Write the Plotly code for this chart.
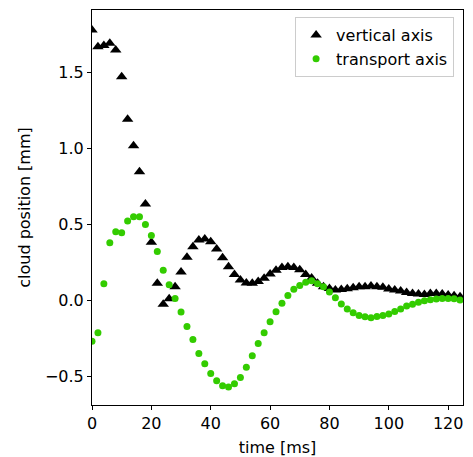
import plotly.graph_objects as go

time_ms = list(range(0, 126, 2))

vertical_axis = [
    1.776, 1.667, 1.675, 1.689, 1.645, 1.469, 1.189, 1.015, 0.844, 0.632,
    0.380, 0.110, -0.028, 0.009, 0.088, 0.184, 0.281, 0.351, 0.395, 0.401,
    0.384, 0.336, 0.278, 0.219, 0.169, 0.132, 0.112, 0.110, 0.123, 0.143,
    0.171, 0.197, 0.215, 0.219, 0.215, 0.200, 0.169, 0.145, 0.110, 0.088,
    0.077, 0.066, 0.070, 0.075, 0.081, 0.088, 0.088, 0.092, 0.088, 0.084,
    0.073, 0.066, 0.059, 0.050, 0.044, 0.040, 0.037, 0.044, 0.044, 0.040,
    0.033, 0.029, 0.022,
]

transport_axis = [
    -0.270, -0.215, 0.107, 0.377, 0.450, 0.443, 0.520, 0.548, 0.548, 0.498,
    0.425, 0.320, 0.197, 0.101, 0.011, -0.079, -0.173, -0.259, -0.351, -0.419,
    -0.482, -0.531, -0.564, -0.572, -0.550, -0.509, -0.441, -0.366, -0.285, -0.215,
    -0.143, -0.077, -0.020, 0.031, 0.072, 0.096, 0.118, 0.127, 0.107, 0.088,
    0.053, 0.015, -0.026, -0.059, -0.083, -0.101, -0.110, -0.116, -0.108, -0.101,
    -0.092, -0.075, -0.059, -0.039, -0.028, -0.015, -0.004, 0.002, 0.007, 0.011,
    0.011, 0.009, 0.000,
]

font = dict(family="DejaVu Sans", size=16, color="black")
title_font = dict(family="DejaVu Sans", size=16, color="black")

fig = go.Figure()
fig.add_trace(go.Scatter(
    x=time_ms, y=vertical_axis, mode="markers", name="vertical axis",
    marker=dict(symbol="triangle-up", size=10, color="black", line=dict(width=0)),
))
fig.add_trace(go.Scatter(
    x=time_ms, y=transport_axis, mode="markers", name="transport axis",
    marker=dict(symbol="circle", size=7, color="#33cc00", line=dict(width=0)),
))

fig.update_layout(
    width=473, height=457,
    margin=dict(l=92, r=10, t=10, b=52, autoexpand=False),
    paper_bgcolor="white", plot_bgcolor="white",
    font=font,
    showlegend=True,
    legend=dict(
        x=0.976, y=0.982, xanchor="right", yanchor="top",
        bgcolor="rgba(255,255,255,0.8)", bordercolor="#cccccc", borderwidth=1,
        font=dict(family="DejaVu Sans", size=16, color="black"),
        tracegroupgap=0,
    ),
)
fig.update_xaxes(
    range=[0, 125], tickvals=[0, 20, 40, 60, 80, 100, 120],
    showgrid=False, zeroline=False, automargin=False,
    showline=True, linecolor="black", linewidth=1, mirror=True,
    ticks="outside", ticklen=4, tickcolor="black",
    title=dict(text="time [ms]", standoff=9, font=title_font),
)
fig.update_yaxes(
    range=[-0.69, 1.908], tickvals=[-0.5, 0.0, 0.5, 1.0, 1.5], tickformat=".1f",
    showgrid=False, zeroline=False, automargin=False,
    showline=True, linecolor="black", linewidth=1, mirror=True,
    ticks="outside", ticklen=4, tickcolor="black",
    title=dict(text="cloud position [mm]", standoff=10, font=title_font),
)

fig.write_html("out.html")
